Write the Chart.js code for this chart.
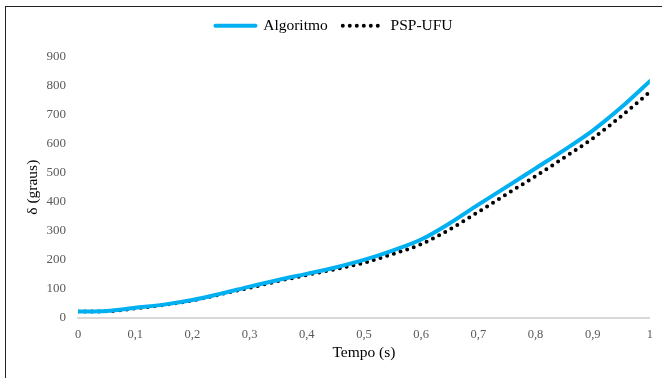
<!DOCTYPE html>
<html>
<head>
<meta charset="utf-8">
<script src="https://cdn.jsdelivr.net/npm/chart.js@4"></script>
<style>
  body { margin: 0; background: #fff; }
  #wrap { position: relative; width: 662px; height: 378px; }
  #frame { position: absolute; left: 5px; top: 6px; right: 0; bottom: 0; border-left: 1px solid #222; border-top: 1px solid #222; pointer-events: none; }
</style>
</head>
<body>
<div id="wrap">
  <canvas id="myChart" width="662" height="378"></canvas>
  <div id="frame"></div>
</div>
<script>
const tempo = [0, 0.05, 0.1, 0.15, 0.2, 0.25, 0.3, 0.35, 0.4, 0.45, 0.5, 0.55, 0.6, 0.65, 0.7, 0.75, 0.8, 0.85, 0.9, 0.95, 1]
const algoritmo = [22, 24, 35, 46, 62, 84, 108, 131, 152, 174, 200, 232, 270, 326, 390, 452, 515, 578, 645, 725, 815]
const pspUfu = [22, 23, 33, 45, 60, 82, 104, 127, 148, 168, 190, 220, 254, 305, 365, 427, 488, 552, 618, 695, 778]

const blueColor = '#00B0F0'
const serif = 'Liberation Serif'

const toPoints = values => tempo.map((t, i) => ({ x: t, y: values[i] }))

// extra room under the legend
const legendGap = {
    id: 'legendGap',
    beforeInit(chart) {
        const fit = chart.legend.fit
        chart.legend.fit = function () {
            fit.bind(chart.legend)()
            this.height += 13
        }
    }
}

const ctx = document.getElementById('myChart')

new Chart(ctx, {
    type: 'line',
    data: {
        datasets: [{
            label: 'Algoritmo',
            data: toPoints(algoritmo),
            borderColor: blueColor,
            backgroundColor: blueColor,
            borderWidth: 4,
            pointRadius: 0,
            cubicInterpolationMode: 'monotone',
            borderCapStyle: 'round'
        }, {
            label: 'PSP-UFU',
            data: toPoints(pspUfu),
            borderColor: '#000',
            backgroundColor: '#000',
            borderWidth: 4,
            borderDash: [0, 7],
            borderCapStyle: 'round',
            pointRadius: 0,
            cubicInterpolationMode: 'monotone'
        }]
    },
    plugins: [legendGap],
    options: {
        responsive: false,
        animation: false,
        layout: { padding: { left: 18, right: 12, top: 3, bottom: 16 } },
        plugins: {
            tooltip: { enabled: false },
            legend: {
                position: 'top',
                labels: {
                    usePointStyle: true,
                    pointStyleWidth: 40,
                    boxHeight: 10,
                    padding: 15,
                    color: '#000',
                    font: { family: serif, size: 15.5 },
                    generateLabels: chart => chart.data.datasets.map((ds, i) => ({
                        text: ds.label,
                        datasetIndex: i,
                        strokeStyle: ds.borderColor,
                        fillStyle: ds.borderColor,
                        lineWidth: ds.borderWidth,
                        lineDash: ds.borderDash || [],
                        lineCap: ds.borderCapStyle,
                        pointStyle: 'line',
                        hidden: false
                    }))
                }
            }
        },
        scales: {
            x: {
                type: 'linear',
                min: 0,
                max: 1,
                afterFit: scale => { scale.height = 44 },
                grid: { display: false, drawTicks: false },
                border: { color: '#d9d9d9', width: 2 },
                ticks: {
                    stepSize: 0.1,
                    color: '#595959',
                    padding: 9,
                    font: { family: serif, size: 12.5 },
                    callback: v => String(Math.round(v * 10) / 10).replace('.', ',')
                },
                title: {
                    display: true,
                    text: 'Tempo (s)',
                    color: '#000',
                    padding: { top: 0, bottom: 0 },
                    font: { family: serif, size: 15.5 }
                }
            },
            y: {
                min: 0,
                max: 900,
                afterFit: scale => { scale.width = 60 },
                grid: { display: false, drawTicks: false },
                border: { display: false },
                ticks: {
                    stepSize: 100,
                    color: '#595959',
                    padding: 12,
                    font: { family: serif, size: 13 }
                },
                title: {
                    display: true,
                    text: 'δ (graus)',
                    color: '#000',
                    padding: { top: 6, bottom: 0 },
                    font: { family: serif, size: 15.5 }
                }
            }
        }
    }
})
</script>
</body>
</html>
